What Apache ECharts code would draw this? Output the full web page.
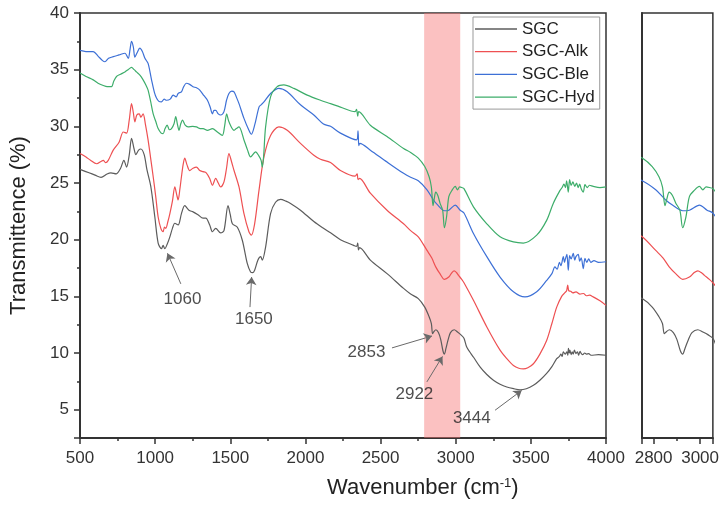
<!DOCTYPE html>
<html><head><meta charset="utf-8">
<script src="https://cdn.jsdelivr.net/npm/echarts@6/dist/echarts.min.js"></script>
<style>html,body{margin:0;padding:0;background:#fff}#c{width:722px;height:508px}</style>
</head><body><div id="c"></div>
<script>
const seriesNames = ['SGC','SGC-Alk','SGC-Ble','SGC-Hyd'];
const seriesColors = ['#5c5c5c','#ee5052','#3d70d6','#3dad6a'];

const SGC = [[500,26.2],[560,25.9],[600,25.7],[640,25.5],[680,25.8],[706,25.9],[740,25.8],[770,26.3],[792,27.0],[810,26.4],[828,27.5],[843,28.95],[860,28.0],[872,27.5],[890,27.9],[905,28.0],[927,27.5],[945,26.2],[971,24.7],[998,22.0],[1020,19.7],[1042,19.2],[1053,19.5],[1064,19.2],[1080,19.6],[1098,20.25],[1115,21.0],[1131,21.45],[1153,21.3],[1175,22.3],[1197,23.0],[1225,22.6],[1252,22.45],[1285,22.2],[1319,21.9],[1337,21.9],[1363,21.3],[1381,20.7],[1403,21.0],[1436,20.6],[1458,20.8],[1485,23.0],[1500,22.2],[1514,21.4],[1547,21.1],[1580,19.95],[1613,17.9],[1635,17.15],[1650,17.1],[1662,17.3],[1684,18.2],[1702,18.5],[1713,18.2],[1735,19.35],[1768,22.3],[1801,23.3],[1835,23.55],[1870,23.4],[1901,23.2],[1967,22.6],[2056,21.6],[2120,21.0],[2167,20.6],[2233,20.0],[2321,19.5],[2340,19.4],[2348,19.7],[2353,19.1],[2360,19.3],[2432,18.2],[2543,17.0],[2653,15.7],[2700,15.2],[2751,14.8],[2794,14.05],[2823,13.2],[2838,12.6],[2846,11.7],[2856,11.9],[2868,12.05],[2885,11.8],[2900,11.2],[2915,10.2],[2925,9.9],[2935,10.4],[2950,11.2],[2965,11.8],[2990,12.05],[3012,11.85],[3035,11.6],[3055,11.3],[3074,10.5],[3120,9.6],[3163,8.75],[3207,8.1],[3251,7.6],[3295,7.25],[3340,7.0],[3385,6.85],[3428,6.75],[3470,6.85],[3517,7.15],[3560,7.6],[3605,8.2],[3640,8.8],[3672,9.5],[3690,9.7],[3700,9.9],[3708,9.7],[3716,10.1],[3728,9.9],[3740,10.1],[3746,9.8],[3750,10.4],[3756,10.0],[3760,10.25],[3768,9.85],[3775,10.1],[3782,9.9],[3790,10.25],[3800,9.95],[3810,10.1],[3818,9.8],[3827,10.15],[3836,9.95],[3845,9.85],[3858,10.0],[3870,9.9],[3885,9.95],[3900,9.8],[3950,9.85],[4000,9.8]];

const SGC_Alk = [[500,27.6],[540,27.3],[570,27.0],[611,26.7],[640,26.9],[655,27.0],[670,26.8],[688,27.0],[721,27.9],[760,28.6],[788,29.5],[810,29.4],[828,30.6],[843,32.0],[855,31.2],[865,30.4],[878,31.0],[894,31.1],[905,30.8],[920,31.1],[935,30.2],[953,28.8],[970,27.2],[987,25.55],[1004,23.8],[1020,22.0],[1038,21.0],[1053,20.7],[1062,21.1],[1071,21.0],[1085,21.6],[1098,22.3],[1115,23.4],[1131,24.65],[1143,24.0],[1153,23.5],[1165,24.5],[1175,25.55],[1186,26.6],[1197,27.2],[1212,26.6],[1230,26.1],[1252,26.3],[1275,26.4],[1297,26.1],[1319,26.0],[1340,25.9],[1363,25.4],[1381,24.8],[1403,25.4],[1420,25.0],[1436,24.65],[1458,25.1],[1475,26.3],[1491,27.6],[1508,26.9],[1525,26.1],[1558,24.65],[1591,22.3],[1624,20.7],[1640,20.4],[1662,21.4],[1691,24.35],[1724,27.3],[1768,29.2],[1823,29.95],[1879,29.65],[1967,28.5],[2056,27.45],[2100,27.1],[2167,26.8],[2233,26.1],[2330,25.6],[2344,25.8],[2350,25.3],[2360,25.4],[2432,24.1],[2543,22.6],[2653,21.4],[2700,20.8],[2751,20.25],[2809,19.05],[2840,18.4],[2867,17.6],[2895,17.0],[2925,16.5],[2954,16.7],[2975,17.1],[2990,17.25],[3005,17.1],[3019,16.85],[3040,16.5],[3055,16.2],[3118,14.65],[3207,12.3],[3295,10.25],[3340,9.5],[3384,8.9],[3420,8.65],[3450,8.6],[3480,8.7],[3517,9.05],[3560,9.9],[3605,11.1],[3640,12.6],[3672,14.05],[3705,15.0],[3725,15.3],[3738,15.5],[3745,16.0],[3752,15.5],[3765,15.45],[3780,15.3],[3800,15.4],[3827,15.2],[3850,15.25],[3870,15.05],[3890,15.1],[3915,14.95],[3960,14.6],[4000,14.2]];

const SGC_Ble = [[500,36.7],[540,36.6],[588,36.6],[620,36.2],[650,35.8],[666,35.7],[690,36.0],[721,36.15],[760,36.3],[799,36.45],[821,36.0],[833,36.8],[843,37.5],[855,37.0],[865,36.1],[880,36.5],[898,36.9],[915,36.6],[932,36.0],[953,35.55],[976,34.1],[995,33.0],[1009,32.5],[1025,32.2],[1042,32.15],[1060,32.4],[1076,32.3],[1100,32.4],[1120,32.75],[1140,32.6],[1153,32.9],[1175,33.05],[1190,33.5],[1208,33.8],[1230,33.7],[1252,33.5],[1275,33.4],[1297,33.2],[1325,32.7],[1348,32.3],[1366,31.7],[1381,31.1],[1392,31.4],[1403,31.4],[1420,31.1],[1436,31.0],[1458,31.3],[1475,32.3],[1491,32.9],[1510,33.1],[1525,33.05],[1540,32.6],[1558,32.0],[1591,30.7],[1624,29.65],[1640,29.3],[1662,30.1],[1691,31.7],[1705,31.9],[1724,32.15],[1768,32.9],[1823,33.35],[1879,33.05],[1967,31.9],[2056,31.0],[2120,30.2],[2167,30.0],[2233,29.4],[2340,28.8],[2350,29.6],[2355,28.3],[2362,28.5],[2432,27.9],[2543,26.85],[2653,25.85],[2700,25.5],[2751,25.2],[2809,24.4],[2852,23.5],[2881,23.05],[2925,22.55],[2954,22.6],[2997,23.05],[3030,22.6],[3055,22.35],[3118,20.55],[3207,18.5],[3295,16.7],[3384,15.4],[3461,14.95],[3539,15.4],[3605,16.4],[3640,17.0],[3660,17.6],[3675,17.4],[3690,18.0],[3700,17.7],[3716,18.5],[3724,18.0],[3730,18.3],[3740,18.7],[3749,17.3],[3758,18.6],[3768,18.3],[3782,18.8],[3792,18.2],[3800,18.5],[3815,18.7],[3825,18.1],[3835,18.4],[3849,17.45],[3860,18.35],[3872,18.0],[3885,18.3],[3900,18.0],[3920,18.15],[3950,18.0],[4000,18.05]];

const SGC_Hyd = [[500,34.7],[540,34.4],[588,34.1],[620,33.8],[655,33.6],[680,33.5],[710,33.5],[725,34.0],[743,34.4],[770,34.6],[799,34.8],[820,35.0],[843,35.2],[860,35.0],[876,34.8],[900,34.5],[920,34.1],[940,33.6],[953,33.2],[970,32.2],[987,31.1],[1005,30.4],[1020,29.8],[1040,29.4],[1053,29.35],[1066,29.8],[1080,30.1],[1095,29.7],[1109,29.8],[1125,30.2],[1137,30.85],[1148,30.2],[1159,29.65],[1170,30.2],[1182,30.55],[1200,30.1],[1219,29.95],[1250,30.0],[1275,29.95],[1300,29.8],[1319,29.8],[1348,29.65],[1381,29.8],[1414,29.5],[1447,29.2],[1462,30.0],[1476,31.1],[1491,30.4],[1525,29.65],[1540,29.8],[1558,29.95],[1591,28.8],[1615,27.9],[1635,27.3],[1668,27.75],[1690,27.4],[1705,27.0],[1713,26.4],[1722,27.4],[1735,29.95],[1768,32.6],[1812,33.5],[1856,33.65],[1923,33.35],[2012,32.75],[2100,32.3],[2167,32.0],[2233,31.7],[2330,31.3],[2340,31.5],[2348,30.9],[2355,31.3],[2432,30.1],[2543,29.1],[2653,28.05],[2700,27.7],[2751,27.2],[2794,26.45],[2823,25.55],[2838,24.65],[2849,23.0],[2857,23.6],[2867,24.2],[2881,23.9],[2896,23.2],[2913,22.6],[2925,21.05],[2939,22.0],[2954,23.8],[2975,24.35],[2997,24.7],[3012,24.4],[3026,24.65],[3040,24.6],[3055,24.5],[3118,22.9],[3207,21.4],[3295,20.25],[3384,19.8],[3450,19.7],[3539,20.4],[3605,21.7],[3649,23.2],[3694,24.35],[3708,24.6],[3720,24.9],[3730,24.6],[3738,25.2],[3749,24.2],[3758,25.3],[3768,24.8],[3780,25.1],[3792,24.7],[3804,25.0],[3815,24.6],[3825,24.9],[3835,24.5],[3849,24.2],[3860,24.85],[3875,24.6],[3890,24.8],[3915,24.7],[3960,24.6],[4000,24.65]];

const seriesData = [SGC, SGC_Alk, SGC_Ble, SGC_Hyd];

// annotations: label text, label position, arrow start, arrow tip
const annoText  = ['1060','1650','2853','2922','3444'];
const annoLabel = [[1182,14.7],[1657,13.0],[2406,10.1],[2725,6.35],[3107,4.2]];
const annoFrom  = [[1171,16.1],[1631,14.05],[2576,10.45],[2808,7.45],[3262,4.95]];
const annoTo    = [[1082,18.8],[1642,16.7],[2842,11.5],[2912,9.7],[3439,6.7]];

const bandRange = [2790, 3030];

const yMajorTicks = [5,10,15,20,25,30,35,40];
const insetMajorTicks = [2800,3000];

const FONT = 'Liberation Sans, Arial, sans-serif';
const xMin = 500, xMax = 4000, xStep = 500, yMin = 2.5, yMax = 40;
const insetMin = 2750, insetMax = 3055;

const chart = echarts.init(document.getElementById('c'), null, {renderer:'canvas'});

const axisLineStyle = {color:'#333', width:2};
const plain = v => String(v);
const series = [];
seriesData.forEach((d,i)=>{
  series.push({type:'line', name:seriesNames[i], data:d, xAxisIndex:0, yAxisIndex:0,
    showSymbol:false, symbol:'none', smooth:0.3, lineStyle:{width:1.2,color:seriesColors[i]},
    itemStyle:{color:seriesColors[i]}, z:2, animation:false});
  series.push({type:'line', name:seriesNames[i], data:d, xAxisIndex:1, yAxisIndex:1,
    showSymbol:false, symbol:'none', smooth:0.3, lineStyle:{width:1.2,color:seriesColors[i]},
    itemStyle:{color:seriesColors[i]}, z:2, animation:false});
});
series.push({type:'lines', coordinateSystem:'cartesian2d', xAxisIndex:0, yAxisIndex:0,
  data: annoFrom.map((f,i)=>({coords:[f, annoTo[i]]})),
  symbol:['none','arrow'], symbolSize:[0,8],
  lineStyle:{color:'#6a6a6a', width:1, opacity:1}, z:6, animation:false});
series.push({type:'scatter', xAxisIndex:0, yAxisIndex:0, symbolSize:1,
  itemStyle:{color:'rgba(0,0,0,0)'},
  data: annoLabel.map((p,i)=>({value:p, name:annoText[i]})),
  label:{show:true, position:'inside', formatter:'{b}', color:'#222', fontSize:17, fontFamily:FONT},
  markArea:{silent:true, itemStyle:{color:'rgba(246,120,120,0.46)'},
    data:[[{xAxis:bandRange[0]},{xAxis:bandRange[1]}]]},
  z:5, animation:false});

const minorTick = {show:true, splitNumber:2, length:3, lineStyle:{color:'#333', width:1.5}};

const option = {
  animation:false,
  backgroundColor:'#fff',
  textStyle:{fontFamily:FONT},
  title:{text:'Wavenumber (cm{sup|-1})', left:327, top:477, padding:0,
    textStyle:{fontSize:22, fontWeight:'normal', color:'#222', fontFamily:FONT,
      rich:{sup:{fontSize:13, verticalAlign:'top', lineHeight:13, color:'#222', fontFamily:FONT}}}},
  legend:{data:seriesNames, orient:'vertical', left:473, top:17, selectedMode:false,
    icon:'rect', itemWidth:42, itemHeight:1.3, itemGap:2.7, padding:[2,5,2,2],
    borderColor:'#999', borderWidth:1, backgroundColor:'#fff',
    textStyle:{fontSize:17, color:'#222', fontFamily:FONT, lineHeight:20}, z:10},
  grid:[
    {left:79, right:116, top:13, bottom:70, show:true, borderColor:'#333', borderWidth:1.5, containLabel:false},
    {left:642, right:9, top:13, bottom:70, show:true, borderColor:'#333', borderWidth:1.5, containLabel:false}
  ],
  xAxis:[
    {type:'value', gridIndex:0, min:xMin, max:xMax, interval:xStep, axisLine:{lineStyle:axisLineStyle},
      axisTick:{show:true, length:6, lineStyle:{color:'#333', width:1.5}},
      minorTick:minorTick,
      axisLabel:{fontSize:17, color:'#333', margin:12, fontFamily:FONT, formatter:plain},
      splitLine:{show:false}},
    {type:'value', gridIndex:1, min:insetMin, max:insetMax, splitNumber:2, axisLine:{lineStyle:axisLineStyle},
      axisTick:{show:true, length:6, lineStyle:{color:'#333', width:1.5}},
      minorTick:minorTick,
      axisLabel:{fontSize:17, color:'#333', margin:12, fontFamily:FONT, customValues:insetMajorTicks, formatter:plain},
      splitLine:{show:false}}
  ],
  yAxis:[
    {type:'value', gridIndex:0, min:yMin, max:yMax, splitNumber:8, axisLine:{show:true, lineStyle:axisLineStyle},
      axisTick:{show:true, length:6, lineStyle:{color:'#333', width:1.5}},
      minorTick:minorTick,
      axisLabel:{fontSize:17, color:'#333', margin:11, fontFamily:FONT, customValues:yMajorTicks, formatter:plain},
      splitLine:{show:false},
      name:'Transmittence (%)', nameLocation:'middle', nameGap:50,
      nameTextStyle:{fontSize:22, color:'#222', fontFamily:FONT}},
    {type:'value', gridIndex:1, min:yMin, max:yMax, axisLine:{show:true, lineStyle:axisLineStyle},
      axisTick:{show:false}, axisLabel:{show:false}, splitLine:{show:false}}
  ],
  series: series
};
chart.setOption(option);
</script></body></html>
